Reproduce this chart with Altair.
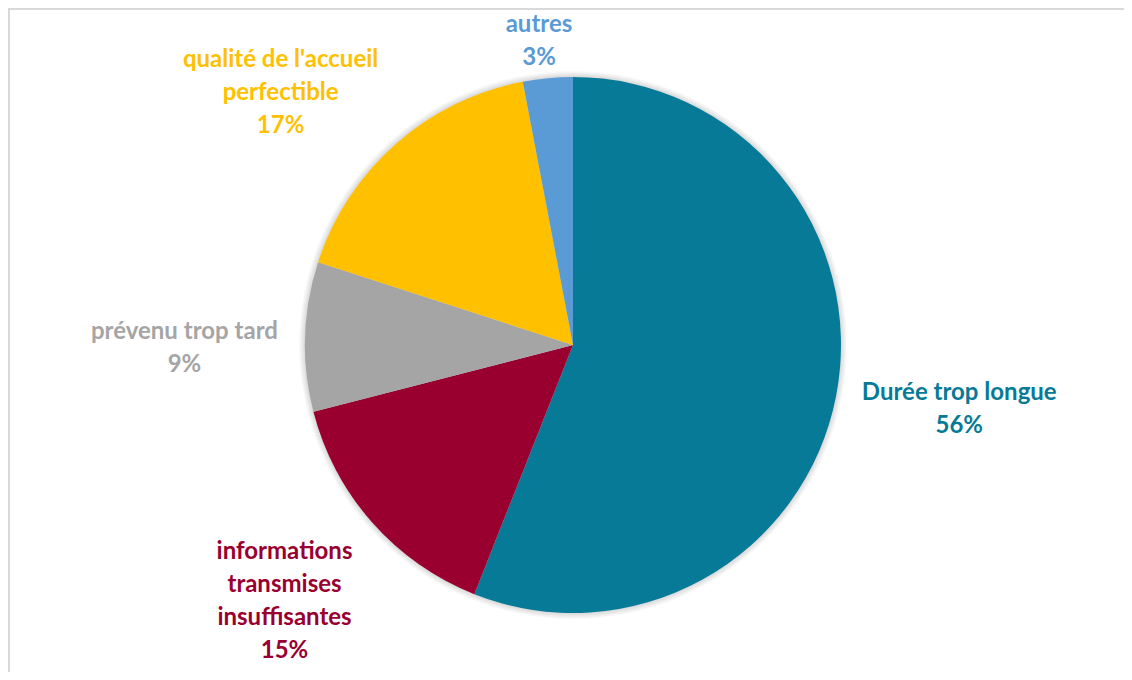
import math
import altair as alt
import pandas as pd

# ---- data ----
categories = [
    "Durée trop longue",
    "informations transmises insuffisantes",
    "prévenu trop tard",
    "qualité de l'accueil perfectible",
    "autres",
]
label_lines = [
    ["Durée trop longue"],
    ["informations", "transmises", "insuffisantes"],
    ["prévenu trop tard"],
    ["qualité de l'accueil", "perfectible"],
    ["autres"],
]
values = [56, 15, 9, 17, 3]
colors = ["#077A98", "#990030", "#A5A5A5", "#FFC000", "#5B9BD5"]

# ---- layout ----
W, H = 1116, 664
CX, CY = 565, 337
RADIUS = 268
LABEL_R = 285          # radius of the label anchor (theta from data)
RX, RY = 295, 278      # horizontal / vertical reach of the label box
FIRST_BASE = 30        # first baseline below top of label box
SIDE_SHIFT = 6         # extra drop for labels sitting beside the pie
FONT = "Lato"
FS = 24
LH = 33

CHAR_W = {
    'a': .51, 'b': .56, 'c': .46, 'd': .56, 'e': .52, 'f': .34, 'g': .51, 'h': .56,
    'i': .25, 'j': .25, 'k': .52, 'l': .25, 'm': .84, 'n': .56, 'o': .56, 'p': .56,
    'q': .56, 'r': .38, 's': .43, 't': .36, 'u': .56, 'v': .52, 'w': .78, 'x': .51,
    'y': .51, 'z': .45, ' ': .26, "'": .24, '%': .78, 'D': .72, 'é': .52,
}


def text_w(s):
    return sum(CHAR_W.get(c, .58) for c in s) * FS


labels = ["\n".join(l + [f"{v}%"]) for l, v in zip(label_lines, values)]
df = pd.DataFrame({
    "category": categories,
    "value": values,
    "order": list(range(len(values))),
    "label": labels,
})

total = sum(values)
theta_scale = alt.Scale(domain=[0, total])

base = alt.Chart(df).transform_window(
    cum="sum(value)", sort=[alt.SortField("order")]
).transform_calculate(mid="datum.cum - datum.value / 2")

layers = []

# soft shadow around the pie
for k in range(1, 7):
    layers.append(
        alt.Chart(pd.DataFrame({"a": [0]})).mark_arc(
            radius=RADIUS + k, theta=0, theta2=2 * math.pi,
            color="#000000", opacity=0.022,
        ).encode(x=alt.value(CX), y=alt.value(CY))
    )

arcs = alt.Chart(df).mark_arc(radius=RADIUS).encode(
    theta=alt.Theta("value:Q", stack=True, scale=theta_scale),
    color=alt.Color("category:N", scale=alt.Scale(domain=categories, range=colors), legend=None),
    order=alt.Order("order:Q"),
    x=alt.value(CX),
    y=alt.value(CY),
)
layers.append(arcs)

cum = 0
for cat, lines, v, col in zip(categories, label_lines, values, colors):
    mid = (cum + v / 2) / total * 2 * math.pi
    cum += v
    s, c = math.sin(mid), -math.cos(mid)
    ax = 1 if s > 0.3 else (-1 if s < -0.3 else 0)
    ay = 1 if c > 0.3 else (-1 if c < -0.3 else 0)
    all_lines = lines + [f"{v}%"]
    w = max(text_w(t) for t in all_lines)
    h = LH * len(all_lines)
    dx = (RX - LABEL_R) * s + ax * w / 2 + (0 if ax else s * w)
    dy = (RY - LABEL_R) * c + ay * h / 2 - h / 2 + FIRST_BASE + (0 if ay else SIDE_SHIFT)
    layers.append(
        base.transform_filter(alt.datum.category == cat).mark_text(
            align="center", baseline="alphabetic", lineBreak="\n",
            font=FONT, fontSize=FS, fontWeight="bold", lineHeight=LH,
            color=col, dx=dx, dy=dy,
        ).encode(
            theta=alt.Theta("mid:Q", scale=theta_scale),
            radius=alt.value(LABEL_R),
            text="label:N",
            x=alt.value(CX),
            y=alt.value(CY),
        )
    )

# frame lines (top and left)
frame = alt.Chart(pd.DataFrame({"a": [0]}))
layers.append(frame.mark_rule(color="#D9D9D9", strokeWidth=2).encode(
    x=alt.value(0), x2=alt.value(W), y=alt.value(1)))
layers.append(frame.mark_rule(color="#D9D9D9", strokeWidth=2).encode(
    x=alt.value(1), y=alt.value(0), y2=alt.value(H)))

chart = alt.layer(*layers).properties(
    width=W, height=H,
    autosize=alt.AutoSizeParams(type="none"),
    padding=0,
).configure_view(stroke=None)

chart.save("out.html", embed_options={"renderer": "svg", "actions": False})
